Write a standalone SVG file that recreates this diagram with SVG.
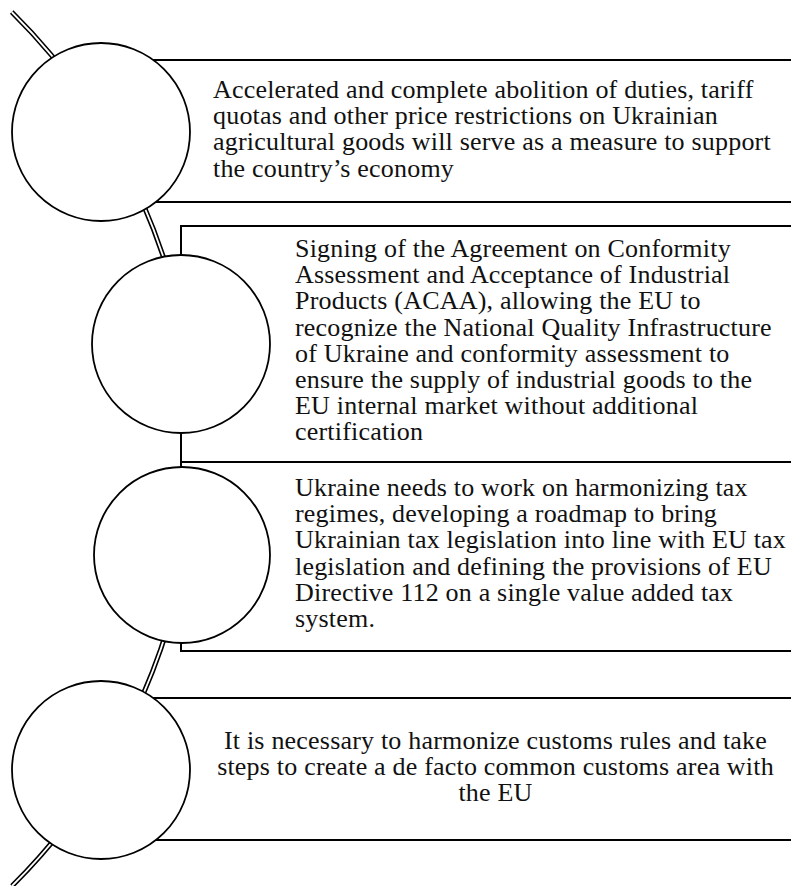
<svg xmlns="http://www.w3.org/2000/svg" width="791" height="886" viewBox="0 0 791 886">
  <style>
    .rail-outer { fill: none; stroke: #000; stroke-width: 5; }
    .rail-inner { fill: none; stroke: #fff; stroke-width: 1.8; }
    .box { fill: #fff; stroke: #000; stroke-width: 2; }
    .disc { fill: #fff; stroke: #000; stroke-width: 1.8; }
    .txt { font-family: "Liberation Serif", serif; font-size: 26px; letter-spacing: 0.2px; fill: #111; }
    .mid { text-anchor: middle; }
  </style>
  <rect width="791" height="886" fill="#fff"/>

  <!-- curved double rail behind everything -->
  <g id="connectors">
    <path class="rail-outer" d="M 11.7 12 A 615 615 0 0 1 12 886"/>
    <path class="rail-inner" d="M 11.7 12 A 615 615 0 0 1 12 886"/>
  </g>

  <g id="node1" class="txt">
    <rect class="box" x="101" y="60" width="720" height="142"/>
    <text x="213" y="98">Accelerated and complete abolition of duties, tariff</text>
    <text x="213" y="124.2">quotas and other price restrictions on Ukrainian</text>
    <text x="213" y="150.4">agricultural goods will serve as a measure to support</text>
    <text x="213" y="176.6">the country’s economy</text>
    <circle class="disc" cx="101" cy="132" r="89"/>
  </g>

  <g id="node2" class="txt">
    <rect class="box" x="181" y="226" width="640" height="236"/>
    <text x="295" y="257">Signing of the Agreement on Conformity</text>
    <text x="295" y="283.2">Assessment and Acceptance of Industrial</text>
    <text x="295" y="309.4">Products (ACAA), allowing the EU to</text>
    <text x="295" y="335.6">recognize the National Quality Infrastructure</text>
    <text x="295" y="361.8">of Ukraine and conformity assessment to</text>
    <text x="295" y="388">ensure the supply of industrial goods to the</text>
    <text x="295" y="414.2">EU internal market without additional</text>
    <text x="295" y="440.4">certification</text>
  </g>

  <g id="node3" class="txt">
    <rect class="box" x="181" y="462" width="640" height="189"/>
    <text x="295" y="496">Ukraine needs to work on harmonizing tax</text>
    <text x="295" y="522.2">regimes, developing a roadmap to bring</text>
    <text x="295" y="548.4">Ukrainian tax legislation into line with EU tax</text>
    <text x="295" y="574.6">legislation and defining the provisions of EU</text>
    <text x="295" y="600.8">Directive 112 on a single value added tax</text>
    <text x="295" y="627">system.</text>
  </g>

  <!-- discs for nodes 2 and 3 sit over both boxes -->
  <circle class="disc" cx="181" cy="344" r="89"/>
  <circle class="disc" cx="182" cy="555" r="88"/>

  <g id="node4" class="txt">
    <rect class="box" x="101" y="698" width="720" height="142"/>
    <text class="mid" x="495.5" y="749">It is necessary to harmonize customs rules and take</text>
    <text class="mid" x="495.5" y="775.2">steps to create a de facto common customs area with</text>
    <text class="mid" x="495.5" y="801.4">the EU</text>
    <circle class="disc" cx="101" cy="770" r="89"/>
  </g>
</svg>
